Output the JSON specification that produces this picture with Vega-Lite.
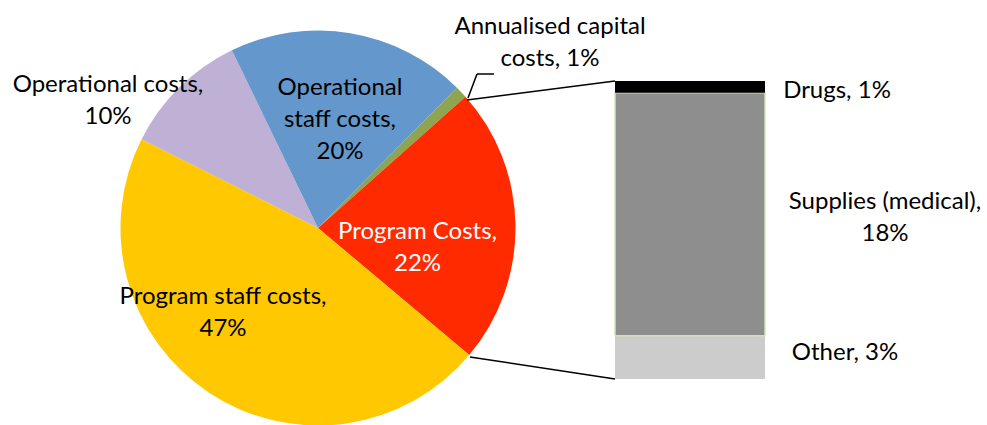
{
  "$schema": "https://vega.github.io/schema/vega-lite/v6.json",
  "width": 987,
  "height": 425,
  "autosize": {"type": "none"},
  "padding": 0,
  "config": {"view": {"stroke": null}},
  "datasets": {
    "pie": [
      {"category": "Annualised capital costs", "label": "Annualised capital\ncosts, 1%", "value": 1.0, "order": 1},
      {"category": "Program Costs", "label": "Program Costs,\n22%", "value": 22.7, "order": 2},
      {"category": "Program staff costs", "label": "Program staff costs,\n47%", "value": 46.3, "order": 3},
      {"category": "Operational costs", "label": "Operational costs,\n10%", "value": 10.4, "order": 4},
      {"category": "Operational staff costs", "label": "Operational\nstaff costs,\n20%", "value": 19.6, "order": 5}
    ],
    "bar": [
      {"category": "Other", "label": "Other, 3%", "value": 3.3, "order": 1},
      {"category": "Supplies (medical)", "label": "Supplies (medical),\n18%", "value": 18.5, "order": 2},
      {"category": "Drugs", "label": "Drugs, 1%", "value": 0.9, "order": 3}
    ]
  },
  "layer": [
    {
      "data": {"name": "pie"},
      "mark": {"type": "arc", "radius": 197.5},
      "encoding": {
        "x": {"datum": -1.98, "type": "quantitative", "axis": null, "scale": {"type": "linear", "domain": [0, 1], "range": [615, 765], "zero": false, "nice": false}},
        "y": {"datum": 11.502, "type": "quantitative", "axis": null, "scale": {"type": "linear", "domain": [0, 22.7], "range": [379, 81], "zero": false, "nice": false}},
        "theta": {"field": "value", "type": "quantitative", "stack": true, "scale": {"range": [0.7802, 7.0634]}},
        "order": {"field": "order", "type": "quantitative"},
        "color": {"field": "category", "type": "nominal", "legend": null,
          "scale": {"domain": ["Annualised capital costs", "Program Costs", "Program staff costs", "Operational costs", "Operational staff costs", "Drugs", "Supplies (medical)", "Other"],
                    "range": ["#8EA54F", "#FF2A00", "#FFC800", "#BFB0D5", "#6497CB", "#000000", "#8E8E8E", "#CCCCCC"]}}
      }
    },
    {
      "data": {"name": "pie"},
      "transform": [{"filter": "datum.category === 'Program Costs'"}],
      "mark": {"type": "rule", "color": "black", "strokeWidth": 1.5},
      "encoding": {
        "x": {"datum": -0.987, "type": "quantitative", "axis": null, "scale": {"type": "linear", "domain": [0, 1], "range": [615, 765], "zero": false, "nice": false}},
        "y": {"datum": 21.25, "type": "quantitative", "axis": null, "scale": {"type": "linear", "domain": [0, 22.7], "range": [379, 81], "zero": false, "nice": false}},
        "x2": {"datum": 0},
        "y2": {"datum": 22.7}
      }
    },
    {
      "data": {"name": "pie"},
      "transform": [{"filter": "datum.category === 'Program Costs'"}],
      "mark": {"type": "rule", "color": "black", "strokeWidth": 1.5},
      "encoding": {
        "x": {"datum": -0.967, "type": "quantitative", "axis": null, "scale": {"type": "linear", "domain": [0, 1], "range": [615, 765], "zero": false, "nice": false}},
        "y": {"datum": 1.676, "type": "quantitative", "axis": null, "scale": {"type": "linear", "domain": [0, 22.7], "range": [379, 81], "zero": false, "nice": false}},
        "x2": {"datum": 0},
        "y2": {"datum": 0}
      }
    },
    {
      "data": {"name": "pie"},
      "transform": [{"filter": "datum.category === 'Annualised capital costs'"}],
      "mark": {"type": "rule", "color": "black", "strokeWidth": 1.5},
      "encoding": {
        "x": {"datum": -0.98, "type": "quantitative", "axis": null, "scale": {"type": "linear", "domain": [0, 1], "range": [615, 765], "zero": false, "nice": false}},
        "y": {"datum": 21.405, "type": "quantitative", "axis": null, "scale": {"type": "linear", "domain": [0, 22.7], "range": [379, 81], "zero": false, "nice": false}},
        "x2": {"datum": -0.92},
        "y2": {"datum": 23.233}
      }
    },
    {
      "data": {"name": "pie"},
      "transform": [{"filter": "datum.category === 'Annualised capital costs'"}],
      "mark": {"type": "rule", "color": "black", "strokeWidth": 1.5},
      "encoding": {
        "x": {"datum": -0.92, "type": "quantitative", "axis": null, "scale": {"type": "linear", "domain": [0, 1], "range": [615, 765], "zero": false, "nice": false}},
        "y": {"datum": 23.233, "type": "quantitative", "axis": null, "scale": {"type": "linear", "domain": [0, 22.7], "range": [379, 81], "zero": false, "nice": false}},
        "x2": {"datum": -0.8067},
        "y2": {"datum": 23.233}
      }
    },
    {
      "data": {"name": "bar"},
      "transform": [{"stack": "value", "groupby": [], "sort": [{"field": "order", "order": "ascending"}], "as": ["v0", "v1"]}],
      "mark": {"type": "rect", "strokeWidth": 1.5},
      "encoding": {
        "x": {"datum": 0, "type": "quantitative", "axis": null, "scale": {"type": "linear", "domain": [0, 1], "range": [615, 765], "zero": false, "nice": false}},
        "x2": {"datum": 1},
        "y": {"field": "v0", "type": "quantitative", "axis": null, "scale": {"type": "linear", "domain": [0, 22.7], "range": [379, 81], "zero": false, "nice": false}},
        "y2": {"field": "v1"},
        "color": {"field": "category", "type": "nominal", "legend": null,
          "scale": {"domain": ["Annualised capital costs", "Program Costs", "Program staff costs", "Operational costs", "Operational staff costs", "Drugs", "Supplies (medical)", "Other"],
                    "range": ["#8EA54F", "#FF2A00", "#FFC800", "#BFB0D5", "#6497CB", "#000000", "#8E8E8E", "#CCCCCC"]}},
        "stroke": {"condition": {"test": "datum.category === 'Supplies (medical)'", "value": "#D3E2B6"}, "value": "transparent"}
      }
    },
    {
      "data": {"name": "pie"},
      "transform": [{"filter": "datum.category === 'Annualised capital costs'"}],
      "mark": {"type": "text", "font": "Lato", "fontSize": 24, "lineBreak": "\n", "lineHeight": 32, "align": "center", "baseline": "middle", "color": "black"},
      "encoding": {
        "x": {"datum": -0.4333, "type": "quantitative", "axis": null, "scale": {"type": "linear", "domain": [0, 1], "range": [615, 765], "zero": false, "nice": false}},
        "y": {"datum": 26.836, "type": "quantitative", "axis": null, "scale": {"type": "linear", "domain": [0, 22.7], "range": [379, 81], "zero": false, "nice": false}},
        "text": {"field": "label"}
      }
    },
    {
      "data": {"name": "pie"},
      "transform": [{"filter": "datum.category === 'Operational costs'"}],
      "mark": {"type": "text", "font": "Lato", "fontSize": 24, "lineBreak": "\n", "lineHeight": 32, "align": "center", "baseline": "middle", "color": "black"},
      "encoding": {
        "x": {"datum": -3.38, "type": "quantitative", "axis": null, "scale": {"type": "linear", "domain": [0, 1], "range": [615, 765], "zero": false, "nice": false}},
        "y": {"datum": 22.395, "type": "quantitative", "axis": null, "scale": {"type": "linear", "domain": [0, 22.7], "range": [379, 81], "zero": false, "nice": false}},
        "text": {"field": "label"}
      }
    },
    {
      "data": {"name": "pie"},
      "transform": [{"filter": "datum.category === 'Operational staff costs'"}],
      "mark": {"type": "text", "font": "Lato", "fontSize": 24, "lineBreak": "\n", "lineHeight": 32, "align": "center", "baseline": "middle", "color": "black"},
      "encoding": {
        "x": {"datum": -1.8333, "type": "quantitative", "axis": null, "scale": {"type": "linear", "domain": [0, 1], "range": [615, 765], "zero": false, "nice": false}},
        "y": {"datum": 22.167, "type": "quantitative", "axis": null, "scale": {"type": "linear", "domain": [0, 22.7], "range": [379, 81], "zero": false, "nice": false}},
        "text": {"field": "label"}
      }
    },
    {
      "data": {"name": "pie"},
      "transform": [{"filter": "datum.category === 'Program Costs'"}],
      "mark": {"type": "text", "font": "Lato", "fontSize": 24, "lineBreak": "\n", "lineHeight": 32, "align": "center", "baseline": "middle", "color": "white"},
      "encoding": {
        "x": {"datum": -1.3167, "type": "quantitative", "axis": null, "scale": {"type": "linear", "domain": [0, 1], "range": [615, 765], "zero": false, "nice": false}},
        "y": {"datum": 11.22, "type": "quantitative", "axis": null, "scale": {"type": "linear", "domain": [0, 22.7], "range": [379, 81], "zero": false, "nice": false}},
        "text": {"field": "label"}
      }
    },
    {
      "data": {"name": "pie"},
      "transform": [{"filter": "datum.category === 'Program staff costs'"}],
      "mark": {"type": "text", "font": "Lato", "fontSize": 24, "lineBreak": "\n", "lineHeight": 32, "align": "center", "baseline": "middle", "color": "black"},
      "encoding": {
        "x": {"datum": -2.6133, "type": "quantitative", "axis": null, "scale": {"type": "linear", "domain": [0, 1], "range": [615, 765], "zero": false, "nice": false}},
        "y": {"datum": 6.269, "type": "quantitative", "axis": null, "scale": {"type": "linear", "domain": [0, 22.7], "range": [379, 81], "zero": false, "nice": false}},
        "text": {"field": "label"}
      }
    },
    {
      "data": {"name": "bar"},
      "transform": [{"filter": "datum.category === 'Drugs'"}],
      "mark": {"type": "text", "font": "Lato", "fontSize": 24, "lineBreak": "\n", "lineHeight": 32, "align": "center", "baseline": "middle", "color": "black"},
      "encoding": {
        "x": {"datum": 1.48, "type": "quantitative", "axis": null, "scale": {"type": "linear", "domain": [0, 1], "range": [615, 765], "zero": false, "nice": false}},
        "y": {"datum": 21.938, "type": "quantitative", "axis": null, "scale": {"type": "linear", "domain": [0, 22.7], "range": [379, 81], "zero": false, "nice": false}},
        "text": {"field": "label"}
      }
    },
    {
      "data": {"name": "bar"},
      "transform": [{"filter": "datum.category === 'Supplies (medical)'"}],
      "mark": {"type": "text", "font": "Lato", "fontSize": 24, "lineBreak": "\n", "lineHeight": 32, "align": "center", "baseline": "middle", "color": "black"},
      "encoding": {
        "x": {"datum": 1.8, "type": "quantitative", "axis": null, "scale": {"type": "linear", "domain": [0, 1], "range": [615, 765], "zero": false, "nice": false}},
        "y": {"datum": 13.483, "type": "quantitative", "axis": null, "scale": {"type": "linear", "domain": [0, 22.7], "range": [379, 81], "zero": false, "nice": false}},
        "text": {"field": "label"}
      }
    },
    {
      "data": {"name": "bar"},
      "transform": [{"filter": "datum.category === 'Other'"}],
      "mark": {"type": "text", "font": "Lato", "fontSize": 24, "lineBreak": "\n", "lineHeight": 32, "align": "center", "baseline": "middle", "color": "black"},
      "encoding": {
        "x": {"datum": 1.5333, "type": "quantitative", "axis": null, "scale": {"type": "linear", "domain": [0, 1], "range": [615, 765], "zero": false, "nice": false}},
        "y": {"datum": 1.981, "type": "quantitative", "axis": null, "scale": {"type": "linear", "domain": [0, 22.7], "range": [379, 81], "zero": false, "nice": false}},
        "text": {"field": "label"}
      }
    }
  ]
}
